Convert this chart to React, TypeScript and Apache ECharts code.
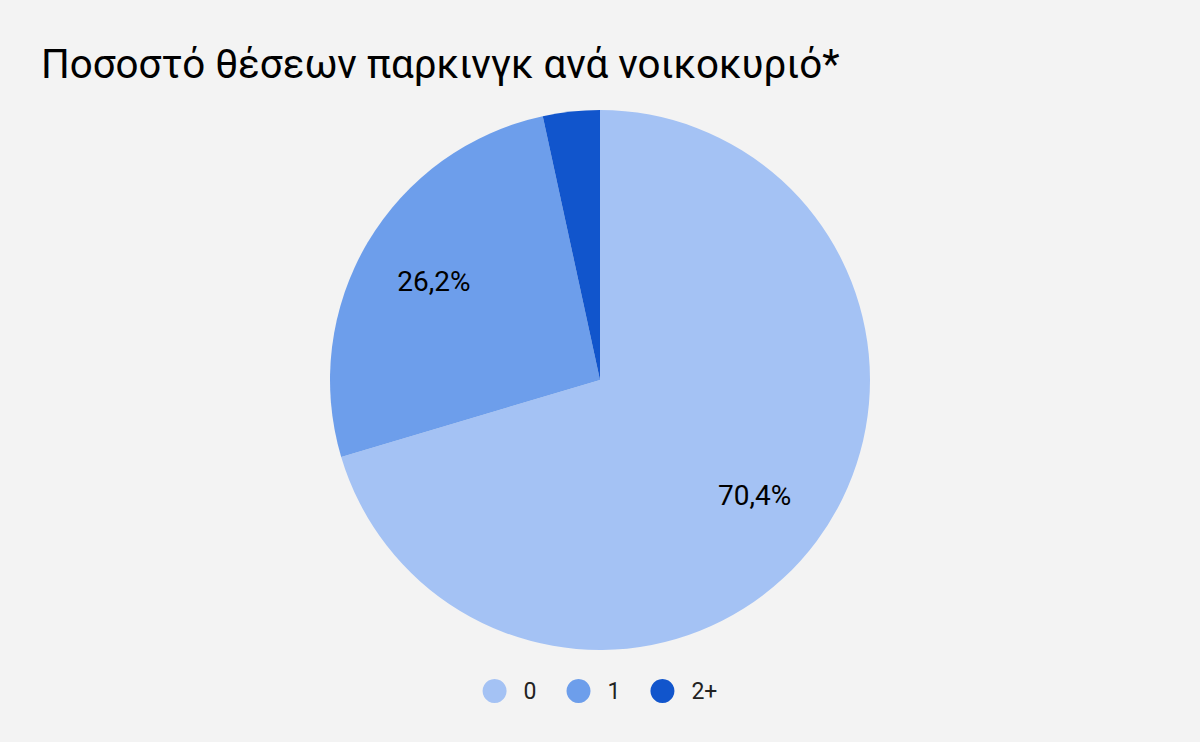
import React, { useEffect, useRef } from "react";
import * as echarts from "echarts";

const titleText = "Ποσοστό θέσεων παρκινγκ ανά νοικοκυριό*";
const categories = ["0", "1", "2+"];
const values = [70.4, 26.2, 3.4];
const colors = ["#a4c2f4", "#6d9eeb", "#1155cc"];
const showLabel = [true, true, false];

export default function App() {
  const ref = useRef<HTMLDivElement>(null);
  useEffect(() => {
    if (!ref.current) return;
    const chart = echarts.init(ref.current, null, { renderer: "svg" });
    const fmt = (v: number) => v.toFixed(1).replace(".", ",") + "%";
    chart.setOption({
      animation: false,
      backgroundColor: "#f3f3f3",
      title: {
        text: titleText,
        left: 36,
        top: 39,
        textStyle: {
          fontFamily: "Roboto",
          fontSize: 40.3,
          fontWeight: "normal",
          color: "#000",
        },
      },
      legend: {
        data: categories,
        bottom: 34,
        left: "center",
        icon: "circle",
        itemWidth: 24,
        itemHeight: 24,
        itemGap: 30,
        textStyle: {
          fontFamily: "Roboto",
          fontSize: 23,
          color: "#222",
          padding: [0, 0, 0, 12],
        },
      },
      series: [
        {
          type: "pie",
          center: [600, 380],
          radius: [0, 270],
          startAngle: 90,
          clockwise: true,
          label: { show: false },
          labelLine: { show: false },
          itemStyle: { borderWidth: 0 },
          emphasis: { disabled: true },
          data: categories.map((c, i) => ({
            name: c,
            value: values[i],
            itemStyle: { color: colors[i] },
          })),
        },
        {
          type: "pie",
          center: [600, 380],
          radius: [110, 270],
          startAngle: 90,
          clockwise: true,
          silent: true,
          legendHoverLink: false,
          labelLine: { show: false },
          itemStyle: { color: "rgba(0,0,0,0)", borderWidth: 0 },
          emphasis: { disabled: true },
          data: categories.map((c, i) => ({
            name: c,
            value: values[i],
            label: {
              show: showLabel[i],
              position: "inside",
              formatter: () => fmt(values[i]),
              fontFamily: "Roboto",
              fontSize: 28,
              color: "#000",
            },
          })),
        },
      ],
    });
    return () => chart.dispose();
  }, []);
  return (
    <div
      ref={ref}
      style={{ position: "fixed", left: 0, top: 0, width: 1200, height: 742 }}
    />
  );
}
